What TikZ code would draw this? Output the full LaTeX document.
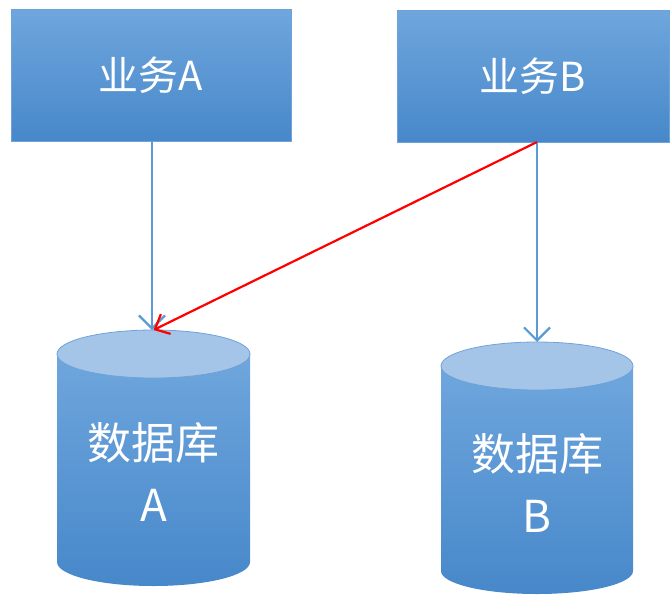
\documentclass[tikz,border=0pt]{standalone}
\usepackage{fontspec}
\newfontfamily\cjk{Noto Sans CJK SC}
\usetikzlibrary{arrows.meta}
\definecolor{topc}{HTML}{6FA6DD}
\definecolor{botc}{HTML}{4788CA}
\definecolor{edgec}{HTML}{6EA2D8}
\definecolor{capc}{HTML}{A5C5E8}
\definecolor{linec}{HTML}{5B9BD5}
\tikzset{
  box/.style={draw=edgec, line width=1pt, top color=topc, bottom color=botc,
    minimum width=280pt, minimum height=132pt, text=white, inner sep=0pt,
    font=\cjk\fontsize{40}{44}\selectfont},
  dblabel/.style={text=white, align=center, font=\cjk\fontsize{44}{62}\selectfont},
  conn/.style={draw=linec, line width=2.2pt, -{Straight Barb[length=13pt,width=26pt,line width=2.2pt]}},
  redconn/.style={draw=red, line width=2.2pt, -{Straight Barb[length=12pt,width=22pt,line width=2.2pt]}},
}
\begin{document}
\begin{tikzpicture}[x=1pt,y=-1pt]
\useasboundingbox (0,0) rectangle (671,595);
% boxes
\node[box] (ba) at (151,75) {业务A};
\node[box, minimum width=272pt] (bb) at (533,76) {业务B};
% cylinder A
\shade[top color=topc, bottom color=botc] (57,354) -- (57,562) arc[start angle=180,end angle=0,x radius=96.5,y radius=24] -- (250,354) -- cycle;
\fill[capc] (153.5,354) ellipse[x radius=96.5, y radius=24];
\draw[edgec, line width=0.8pt] (153.5,354) ellipse[x radius=96.5, y radius=24];
\coordinate (ta) at (153.5,330);
\node[dblabel] (da) at (153.5,472) {数据库\\A};
% cylinder B
\shade[top color=topc, bottom color=botc] (441,366) -- (441,571) arc[start angle=180,end angle=0,x radius=96,y radius=23] -- (633,366) -- cycle;
\fill[capc] (537,366) ellipse[x radius=96, y radius=24];
\draw[edgec, line width=0.8pt] (537,366) ellipse[x radius=96, y radius=24];
\coordinate (tb) at (537,342);
\node[dblabel] (db) at (537,483) {数据库\\B};
% connectors
\coordinate (sa) at (152,141);
\coordinate (sb) at (537,142);
\draw[conn] (sa) -- (sa |- ta);
\draw[conn] (sb) -- (tb);
\draw[redconn] (sb) -- (ta);
\end{tikzpicture}
\end{document}
